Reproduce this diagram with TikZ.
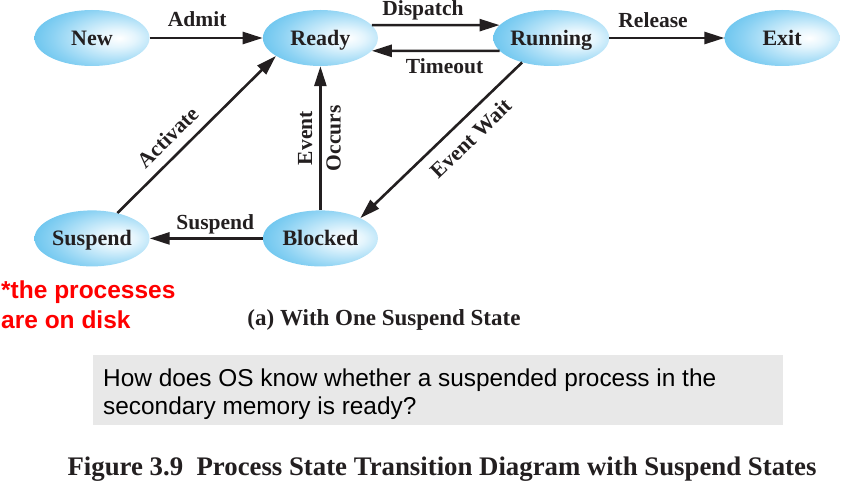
\documentclass[tikz,border=0pt]{standalone}
\usepackage{fontspec}
\setmainfont{Liberation Serif}
\newfontfamily\arialfont{Liberation Sans}
\usetikzlibrary{positioning,arrows.meta,shapes.geometric}
\definecolor{stateblue}{RGB}{58,178,232}
\definecolor{statemid}{RGB}{140,210,243}
\definecolor{statelight}{RGB}{228,245,253}
\definecolor{inkgray}{RGB}{35,31,32}
\definecolor{boxgray}{RGB}{232,232,232}
\pgfdeclareradialshading{stateshade}{\pgfpoint{12bp}{0bp}}{color(0bp)=(white); color(8bp)=(statelight); color(26bp)=(statemid); color(46bp)=(stateblue); color(100bp)=(stateblue)}
\tikzset{
  state/.style={ellipse, shading=stateshade, minimum width=115pt, minimum height=56pt, inner sep=0pt,
    font=\fontsize{22}{22}\selectfont\bfseries, text=inkgray, text height=15pt, text depth=0pt},
  trans/.style={-{Triangle[length=20pt,width=12pt]}, line width=2.6pt, draw=inkgray},
  lbl/.style={font=\fontsize{21.5}{21.5}\selectfont\bfseries, text=inkgray, inner sep=2pt, text height=14pt, text depth=4pt}
}

\begin{document}
\begin{tikzpicture}[x=1pt,y=1pt]
    \useasboundingbox (0,0) rectangle (841,-489);
    \node[state] (new) at (92,-38) {New};
    \node[state] (ready)[right=113pt of new] {Ready};
    \node[state] (running)[right=115pt of ready] {Running};
    \node[state] (exit)[right=115pt of running] {Exit};
    \node[state] (suspend)[below=144pt of new] {Suspend};
    \node[state] (blocked)[below=144pt of ready] {Blocked};
    \draw[trans] (new) -- node[lbl, above=4pt, pos=0.42] {Admit} (ready);
    \draw[trans] (ready.14) -- node[lbl, above=2pt, pos=0.4] {Dispatch} (running.166);
    \draw[trans] (running.-166) -- node[lbl, below=5pt, pos=0.43] {Timeout} (ready.-14);
    \draw[trans] (running) -- node[lbl, above=3pt, pos=0.38] {Release} (exit);
    \draw[trans] (running.220) -- node[lbl, sloped, below=9pt, pos=0.4] {Event Wait} (blocked.27);
    \draw[trans] (blocked) -- node[lbl, sloped, above=1pt] {Event}
        node[lbl, sloped, below=3pt] {Occurs} (ready);
    \draw[trans] (blocked) -- node[lbl, above=2pt, pos=0.42] {Suspend} (suspend);
    \draw[trans] (suspend.45) -- node[lbl, sloped, above=4pt, pos=0.4] {Activate} (ready.202);
    % notes and captions
    \node[anchor=north west, align=left, inner sep=0pt, text=red,
      font=\arialfont\bfseries\fontsize{24.5}{30}\selectfont] (disknote) at (1,-281) {*the processes\\are on disk};
    \node[anchor=base, inner sep=0pt, text=inkgray, font=\fontsize{23}{23}\selectfont\bfseries]
      (subcap) at (384,-325) {(a) With One Suspend State};
    \node[anchor=north west, fill=boxgray, minimum width=690pt, minimum height=70pt, inner sep=0pt]
      (qbox) at (93,-355) {};
    \node[anchor=north west, align=left, inner sep=0pt, font=\arialfont\fontsize{24.4}{28}\selectfont]
      (qtext) at ([xshift=10pt,yshift=-14pt]qbox.north west)
      {How does OS know whether a suspended process in the\\secondary memory is ready?};
    \node[anchor=base, inner sep=0pt, text=inkgray, font=\fontsize{26.8}{26.8}\selectfont\bfseries]
      (figcap) at (442,-475) {Figure 3.9\ \ Process State Transition Diagram with Suspend States};
\end{tikzpicture}
\end{document}
